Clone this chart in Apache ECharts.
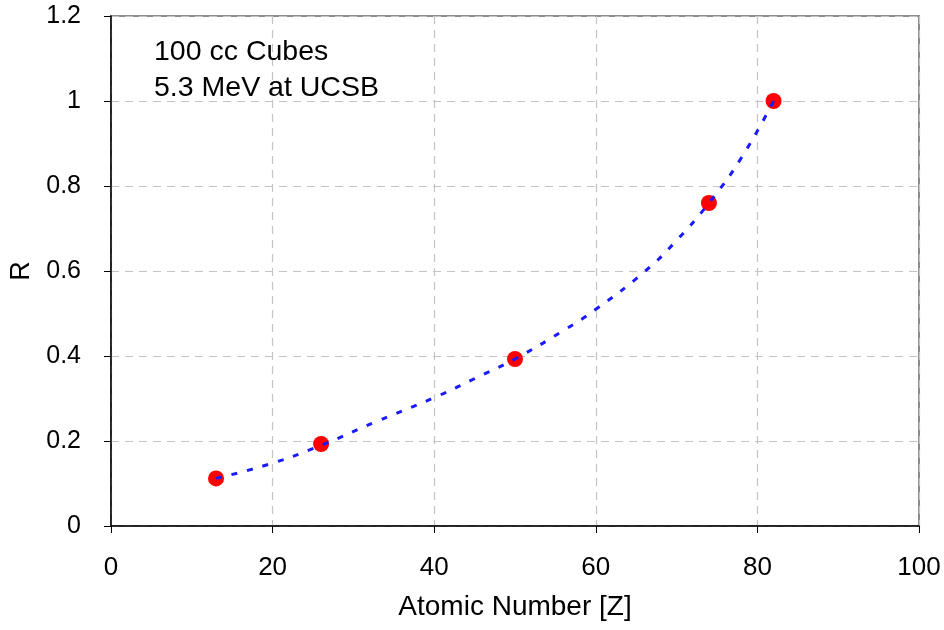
<!DOCTYPE html>
<html>
<head>
<meta charset="utf-8">
<script src="https://cdn.jsdelivr.net/npm/echarts@6/dist/echarts.min.js"></script>
<style>
  html, body { margin: 0; padding: 0; background: #fff; }
  #chart { width: 944px; height: 630px; }
</style>
</head>
<body>
<div id="chart"></div>
<script>
// measured points
const atomicZ = [13, 26, 50, 74, 82];
const ratioR = [0.112, 0.193, 0.393, 0.76, 1.0];

// dotted trend line
const fitZ = [13, 20, 26, 33, 40, 46, 50, 56, 60, 66, 70, 74, 78, 82];
const fitR = [0.112, 0.148, 0.19, 0.247, 0.302, 0.356, 0.393, 0.46, 0.51, 0.598, 0.672, 0.76, 0.866, 1.0];

const noteLines = ['100 cc Cubes', '5.3 MeV at UCSB'];

const font = '"Liberation Sans", Arial, sans-serif';
const chart = echarts.init(document.getElementById('chart'));

chart.setOption({
  backgroundColor: '#fff',
  animation: false,
  grid: {
    left: 111, right: 25, top: 16, bottom: 104,
    show: true, borderColor: '#8c8c8c', borderWidth: 2, backgroundColor: '#fff'
  },
  xAxis: {
    type: 'value', min: 0, max: 100, interval: 20,
    name: 'Atomic Number [Z]', nameLocation: 'middle', nameGap: 67,
    nameTextStyle: { fontFamily: font, fontSize: 28, color: '#000' },
    axisLine: { lineStyle: { color: '#000', width: 1.5 } },
    axisTick: { length: 7, lineStyle: { color: '#000', width: 1 } },
    axisLabel: { fontFamily: font, fontSize: 26, color: '#000', margin: 29 },
    splitLine: { show: true, lineStyle: { color: '#c4c4c4', type: [8, 6], width: 1.2 } }
  },
  yAxis: {
    type: 'value', min: 0, max: 1.2, interval: 0.2,
    name: 'R', nameLocation: 'middle', nameGap: 74, nameRotate: 90,
    nameTextStyle: { fontFamily: font, fontSize: 27, color: '#000' },
    axisLine: { show: true, lineStyle: { color: '#000', width: 1.5 } },
    axisTick: { show: true, length: 7, lineStyle: { color: '#000', width: 1 } },
    axisLabel: { fontFamily: font, fontSize: 25, color: '#000', margin: 30 },
    splitLine: { show: true, lineStyle: { color: '#c4c4c4', type: [8, 6], width: 1.2 } }
  },
  graphic: [{
    type: 'text', left: 154, top: 34, z: 100,
    style: {
      text: noteLines.join('\n'), fontFamily: font, fontSize: 28.5,
      lineHeight: 36, fill: '#000'
    }
  }],
  series: [
    {
      type: 'scatter', z: 3,
      data: atomicZ.map((z, i) => [z, ratioR[i]]),
      symbol: 'circle', symbolSize: 16,
      itemStyle: { color: '#ff0000', opacity: 1 }
    },
    {
      type: 'line', z: 4, smooth: true, showSymbol: false,
      data: fitZ.map((z, i) => [z, fitR[i]]),
      lineStyle: { color: '#1a1aff', width: 3, type: [6, 10] }
    }
  ]
});
</script>
</body>
</html>
